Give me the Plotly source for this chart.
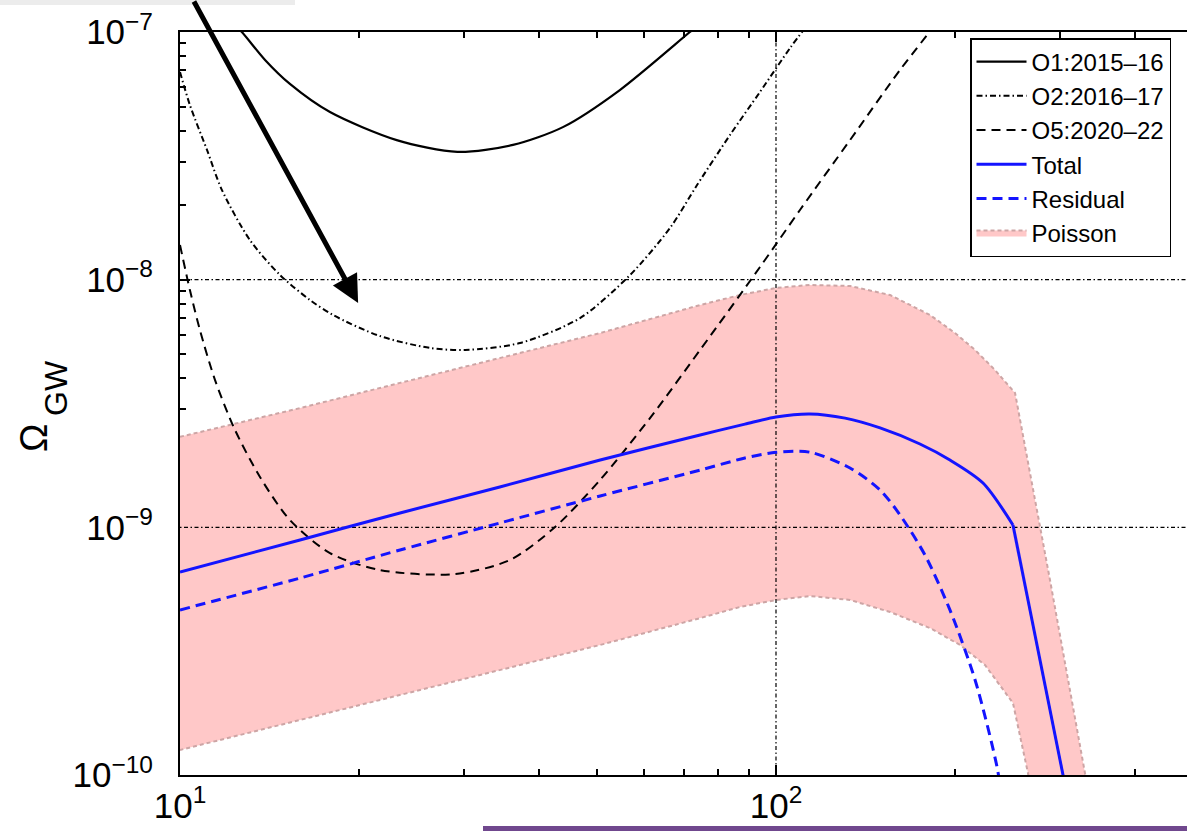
import math
import plotly.graph_objects as go

# ---------------- data ----------------
o1_f = [12.0, 12.7, 13.89, 15.29, 17.85, 23.1, 29.2, 36.2, 43.9, 54.7, 71.7, 74.6]
o1_omega = [1.15e-7, 1.00e-7, 7.71e-8, 6.17e-8, 4.75e-8, 3.66e-8, 3.28e-8, 3.50e-8, 4.13e-8,
            5.83e-8, 1.00e-7, 1.08e-7]

o2_f = [10, 10.39, 11.10, 11.76, 13.10, 14.72, 16.52, 18.06, 21.65, 26.27, 30.08, 37.20,
        46.90, 56.89, 66.40, 73.71, 83.72, 94.01, 105.6, 111.9]
o2_omega = [6.89e-8, 5.07e-8, 3.34e-8, 2.30e-8, 1.446e-8, 1.044e-8, 8.28e-9, 7.20e-9, 5.92e-9,
            5.30e-9, 5.20e-9, 5.55e-9, 7.00e-9, 1.044e-8, 1.617e-8, 2.41e-8, 3.84e-8, 5.73e-8,
            8.62e-8, 1.038e-7]

o5_f = [10, 10.39, 10.80, 11.45, 12.37, 13.62, 15.29, 17.85, 21.65, 28.93, 35.78, 42.59,
        50.67, 61.46, 74.57, 94.01, 109.7, 133.1, 161.5, 184.9]
o5_omega = [1.380e-8, 9.08e-9, 6.26e-9, 3.93e-9, 2.47e-9, 1.597e-9, 1.070e-9, 7.87e-10,
            6.72e-10, 6.48e-10, 7.38e-10, 1.003e-9, 1.553e-9, 2.76e-9, 5.20e-9, 1.125e-8,
            1.911e-8, 3.66e-8, 7.03e-8, 1.067e-7]

total_f = [10, 15.9, 23.4, 34.4, 50.7, 74.6, 88.7, 100, 114, 130.6, 149.5, 174.4, 195.8,
           222.5, 249.8, 309]
total_omega = [6.60e-10, 8.89e-10, 1.143e-9, 1.455e-9, 1.870e-9, 2.36e-9, 2.61e-9, 2.79e-9,
               2.87e-9, 2.76e-9, 2.52e-9, 2.17e-9, 1.870e-9, 1.51e-9, 1.022e-9, 7.93e-11]
total_knee = 249.8  # frequency where the total spectrum breaks sharply

resid_f = [10, 15.9, 23.4, 34.4, 50.7, 74.6, 88.7, 100, 114, 133.1, 149.5, 161.5, 177.8,
           195.8, 215.8, 234.9, 239.4]
resid_omega = [4.64e-10, 6.24e-10, 8.10e-10, 1.041e-9, 1.338e-9, 1.703e-9, 1.905e-9, 2.01e-9,
               2.01e-9, 1.736e-9, 1.415e-9, 1.121e-9, 7.73e-10, 4.64e-10, 2.42e-10, 1.077e-10,
               7.93e-11]

poisson_up_f = [10, 15.9, 23.4, 34.4, 50.7, 74.6, 87.0, 100, 114, 133.1, 155.4, 181.3, 199.7,
                215.8, 233.0, 251.8, 288.2, 329.9, 336.3]
poisson_up_omega = [2.32e-9, 3.03e-9, 3.83e-9, 4.83e-9, 6.09e-9, 7.90e-9, 8.67e-9, 9.26e-9,
                    9.52e-9, 9.43e-9, 8.67e-9, 7.20e-9, 6.09e-9, 5.20e-9, 4.32e-9, 3.49e-9,
                    6.13e-10, 1.019e-10, 7.93e-11]
poisson_lo_f = [10, 15.9, 23.4, 34.4, 50.7, 74.6, 87.0, 100, 114, 133.1, 155.4, 181.3, 203.6,
                224.2, 249.8, 264.7, 268.8]
poisson_lo_omega = [1.262e-10, 1.668e-10, 2.10e-10, 2.65e-10, 3.35e-10, 4.30e-10, 4.77e-10,
                    5.09e-10, 5.28e-10, 5.09e-10, 4.55e-10, 3.92e-10, 3.35e-10, 2.78e-10,
                    1.953e-10, 1.019e-10, 7.93e-11]

x_ticks = [10, 100]
x_ticktext = ["10<sup>1</sup>", "10<sup>2</sup>"]
x_minor = [20, 30, 40, 50, 60, 70, 80, 90, 200, 300, 400]
y_ticks = [1e-10, 1e-9, 1e-8, 1e-7]
y_ticktext = ["10<sup>\u221210</sup>", "10<sup>\u22129</sup>", "10<sup>\u22128</sup>", "10<sup>\u22127</sup>"]
y_minor = [m * 10.0 ** e for e in (-10, -9, -8) for m in range(2, 10)]

x_range_log = [1, 2.6896]
y_range_log = [-10, -7]

arrow_tip_f, arrow_tip_omega = 19.9, 8.05e-9

FONT = "Liberation Sans, Arial, Helvetica, sans-serif"
BLUE = "rgb(20,20,255)"

W, H = 1187, 831
L, R, T, B = 180, 0, 32, 56
PW, PH = W - L - R, H - T - B


def px_x(p):
    return (p - L) / PW


def px_y(p):
    return (H - B - p) / PH


fig = go.Figure()

# Poisson band (closed polygon)
fig.add_trace(go.Scatter(
    x=poisson_up_f + poisson_lo_f[::-1],
    y=poisson_up_omega + poisson_lo_omega[::-1],
    fill="toself", fillcolor="rgb(255,200,200)",
    line=dict(color="rgb(205,165,165)", width=2, dash="4px,3px"),
    mode="lines", name="Poisson", legendrank=6, hoverinfo="skip",
))

# decade grid lines drawn over the band (as in the reference)
grid_dash = "1.5px,2.5px,4px,2.5px"
x_lo, x_hi = 10 ** x_range_log[0], 10 ** x_range_log[1]
y_lo, y_hi = 10 ** y_range_log[0], 10 ** y_range_log[1]
for xv in x_ticks[1:]:
    fig.add_trace(go.Scatter(x=[xv, xv], y=[y_lo, y_hi], mode="lines", showlegend=False,
                             hoverinfo="skip", line=dict(color="black", width=1.2, dash=grid_dash)))
for yv in y_ticks[1:-1]:
    fig.add_trace(go.Scatter(x=[x_lo, x_hi], y=[yv, yv], mode="lines", showlegend=False,
                             hoverinfo="skip", line=dict(color="black", width=1.2, dash=grid_dash)))

fig.add_trace(go.Scatter(x=o1_f, y=o1_omega, mode="lines", name="O1:2015\u201316",
                         line=dict(color="black", width=2.2, shape="spline", smoothing=0.8),
                         legendrank=1))
fig.add_trace(go.Scatter(x=o2_f, y=o2_omega, mode="lines", name="O2:2016\u201317",
                         line=dict(color="black", width=2, dash="6px,3px,1.5px,3px",
                                   shape="spline", smoothing=0.8), legendrank=2))
fig.add_trace(go.Scatter(x=o5_f, y=o5_omega, mode="lines", name="O5:2020\u201322",
                         line=dict(color="black", width=2, dash="9px,6px", shape="spline",
                                   smoothing=0.8), legendrank=3))

k = total_f.index(total_knee)
fig.add_trace(go.Scatter(x=total_f[:k + 1], y=total_omega[:k + 1], mode="lines", name="Total",
                         line=dict(color=BLUE, width=3, shape="spline", smoothing=0.8),
                         legendgroup="total", legendrank=4))
fig.add_trace(go.Scatter(x=total_f[k:], y=total_omega[k:], mode="lines", name="Total",
                         line=dict(color=BLUE, width=3), legendgroup="total", showlegend=False))
fig.add_trace(go.Scatter(x=resid_f, y=resid_omega, mode="lines", name="Residual",
                         line=dict(color=BLUE, width=3, dash="10px,6px", shape="spline",
                                   smoothing=0.8), legendrank=5))

shapes = [
    # decorations from the surrounding slide
    dict(type="rect", xref="paper", yref="paper", x0=px_x(483), x1=1.0,
         y0=px_y(831), y1=px_y(826), fillcolor="rgb(112,72,142)",
         line=dict(width=0), layer="above"),
    dict(type="rect", xref="paper", yref="paper", x0=px_x(0), x1=px_x(295),
         y0=px_y(5), y1=px_y(0), fillcolor="rgb(236,236,236)",
         line=dict(width=0), layer="above"),
]

fig.update_xaxes(
    type="log", range=x_range_log, automargin=False,
    tickvals=x_ticks, ticktext=x_ticktext,
    ticks="inside", ticklen=10, tickwidth=1.5, tickcolor="black",
    minor=dict(tickvals=x_minor, ticks="inside", ticklen=6, tickwidth=1.5, tickcolor="black",
               showgrid=False),
    showline=True, linecolor="black", linewidth=2, mirror="ticks",
    showgrid=False, zeroline=False, layer="below traces",
    tickfont=dict(family=FONT, size=35, color="black"), ticklabelstandoff=-1,
)
fig.update_yaxes(
    type="log", range=y_range_log, automargin=False,
    tickvals=y_ticks, ticktext=y_ticktext,
    ticks="inside", ticklen=10, tickwidth=1.5, tickcolor="black",
    minor=dict(tickvals=y_minor, ticks="inside", ticklen=6, tickwidth=1.5, tickcolor="black",
               showgrid=False),
    showline=True, linecolor="black", linewidth=2, mirror=False,
    showgrid=False, zeroline=False, layer="below traces",
    tickfont=dict(family=FONT, size=35, color="black"), ticklabelstandoff=18,
)

fig.update_layout(
    width=W, height=H, autosize=False,
    margin=dict(l=L, r=R, t=T, b=B, pad=0, autoexpand=False),
    paper_bgcolor="white", plot_bgcolor="white",
    font=dict(family=FONT, color="black"),
    showlegend=True,
    legend=dict(
        x=px_x(970), y=px_y(38), xanchor="left", yanchor="top",
        bgcolor="white", bordercolor="black", borderwidth=1.5,
        font=dict(family=FONT, size=24, color="black"),
        itemwidth=50, tracegroupgap=0,
    ),
    annotations=[
        dict(text="\u03a9", xref="paper", yref="paper", x=px_x(34), y=px_y(438),
             xanchor="center", yanchor="middle", textangle=-90, showarrow=False,
             font=dict(family=FONT, size=38, color="black")),
        dict(text="GW", xref="paper", yref="paper", x=px_x(56), y=px_y(388),
             xanchor="center", yanchor="middle", textangle=-90, showarrow=False,
             font=dict(family=FONT, size=32, color="black")),
        dict(text="", x=math.log10(arrow_tip_f), y=math.log10(arrow_tip_omega), xref="x", yref="y",
             showarrow=True, arrowhead=2, arrowsize=1.1, arrowwidth=5, arrowcolor="black",
             axref="pixel", ayref="pixel", ax=-165, ay=-320, standoff=0),
    ],
    shapes=shapes,
)

fig.write_html("out.html")
